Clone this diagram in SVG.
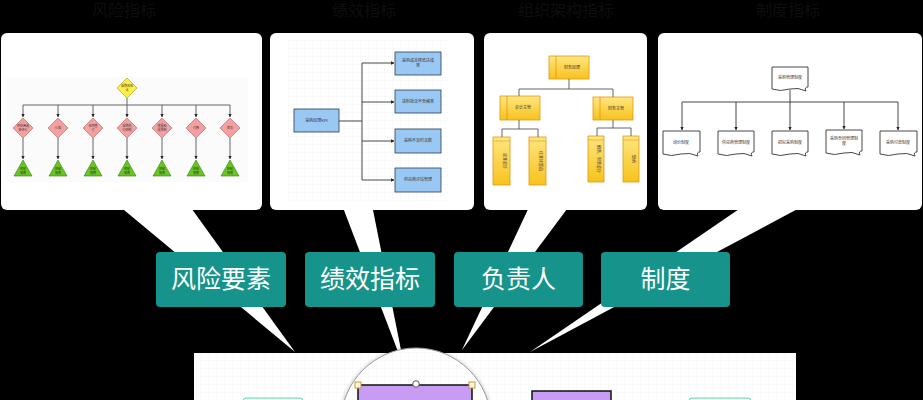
<svg xmlns="http://www.w3.org/2000/svg" width="923" height="400" viewBox="0 0 923 400">
<defs>
  <pattern id="grid" width="8" height="8" patternUnits="userSpaceOnUse">
    <path d="M8 0H0V8" fill="none" stroke="#eeeeee" stroke-width="0.6"/>
  </pattern>
  <marker id="ah" viewBox="0 0 6 6" refX="5.5" refY="3" markerWidth="4" markerHeight="4" orient="auto">
    <path d="M0 0L6 3L0 6Z" fill="#222"/>
  </marker>
  <linearGradient id="yel" x1="0" y1="0" x2="0" y2="1">
    <stop offset="0" stop-color="#ffe680"/>
    <stop offset="1" stop-color="#f7c21c"/>
  </linearGradient>
  <filter id="sh" x="-20%" y="-20%" width="140%" height="140%">
    <feDropShadow dx="0" dy="1" stdDeviation="2" flood-color="#000" flood-opacity="0.35"/>
  </filter>
</defs>
<style>
  .panel{fill:#ffffff}
  .title{font-family:"Noto Sans CJK SC",sans-serif;font-size:16px;fill:#0e0e0e}
  .btn{fill:#16938a}
  .btxt{font-family:"Noto Sans CJK SC",sans-serif;font-size:25px;fill:#ffffff;text-anchor:middle}
  .tiny{font-family:"Noto Sans CJK SC",sans-serif;font-size:4px;fill:#333;text-anchor:middle}
  .t3{font-family:"Noto Sans CJK SC",sans-serif;font-size:3px;fill:#333;text-anchor:middle}
  .ln{fill:none;stroke:#555;stroke-width:0.9}
  .lnk{fill:none;stroke:#333;stroke-width:0.9}
  .pink{fill:#f4a0a0;stroke:#b06060;stroke-width:0.6}
  .grn{fill:#66c81e;stroke:#3a7a10;stroke-width:0.6}
  .blue{fill:#9ac8f4;stroke:#2c3e50;stroke-width:0.8}
  .ybox{fill:url(#yel);stroke:#e09a10;stroke-width:0.8}
  .doc{fill:#ffffff;stroke:#333;stroke-width:0.9}
  .purple{fill:#c99cf3;stroke:#111;stroke-width:1.5}
</style>
<rect width="923" height="400" fill="#000"/>

<!-- faint titles -->
<g id="titles">
  <text class="title" x="92" y="16">风险指标</text>
  <text class="title" x="332" y="16">绩效指标</text>
  <text class="title" x="518" y="16">组织架构指标</text>
  <text class="title" x="756" y="16">制度指标</text>
</g>

<!-- panel 1: risk chart -->
<g id="panel-risk">
  <rect class="panel" x="1" y="33" width="261" height="177" rx="6"/>
  <polygon class="panel" points="118,205 189,205 295,352"/>
  <rect x="6" y="77" width="242" height="105" fill="#fbfbfb"/>
  <polygon points="127,78 137,88 127,98 117,88" fill="#ffee44" stroke="#a09020" stroke-width="0.6"/>
  <text class="t3" x="127" y="87">采购风险</text>
  <text class="t3" x="127" y="91">点</text>
  <g>
    <polygon class="pink" points="23,118 33,128 23,138 13,128"/>
    <polygon class="pink" points="58,118 68,128 58,138 48,128"/>
    <polygon class="pink" points="93,118 103,128 93,138 83,128"/>
    <polygon class="pink" points="127,118 137,128 127,138 117,128"/>
    <polygon class="pink" points="162,118 172,128 162,138 152,128"/>
    <polygon class="pink" points="196,118 206,128 196,138 186,128"/>
    <polygon class="pink" points="230,118 240,128 230,138 220,128"/>
    <text class="t3" x="23" y="127">供应商选</text><text class="t3" x="23" y="131">择评价</text>
    <text class="t3" x="58" y="129">价格</text>
    <text class="t3" x="93" y="127">合同签</text><text class="t3" x="93" y="131">订</text>
    <text class="t3" x="127" y="127">采购执</text><text class="t3" x="127" y="131">行控制</text>
    <text class="t3" x="162" y="127">质量验</text><text class="t3" x="162" y="131">收控制</text>
    <text class="t3" x="196" y="129">付款</text>
    <text class="t3" x="230" y="129">库存</text>
  </g>
  <g>
    <polygon class="grn" points="23,160 32,176 14,176"/>
    <polygon class="grn" points="58,160 67,176 49,176"/>
    <polygon class="grn" points="93,160 102,176 84,176"/>
    <polygon class="grn" points="127,160 136,176 118,176"/>
    <polygon class="grn" points="162,160 171,176 153,176"/>
    <polygon class="grn" points="196,160 205,176 187,176"/>
    <polygon class="grn" points="230,160 239,176 221,176"/>
    <text class="t3" x="23" y="170">控制</text><text class="t3" x="23" y="174">措施</text>
    <text class="t3" x="58" y="170">控制</text><text class="t3" x="58" y="174">措施</text>
    <text class="t3" x="93" y="170">控制</text><text class="t3" x="93" y="174">措施</text>
    <text class="t3" x="127" y="170">控制</text><text class="t3" x="127" y="174">措施</text>
    <text class="t3" x="162" y="170">控制</text><text class="t3" x="162" y="174">措施</text>
    <text class="t3" x="196" y="170">控制</text><text class="t3" x="196" y="174">措施</text>
    <text class="t3" x="230" y="170">控制</text><text class="t3" x="230" y="174">措施</text>
  </g>
</g>

<!-- panel 2: KPI -->
<g id="panel-kpi">
  <rect class="panel" x="270" y="33" width="204" height="177" rx="6"/>
  <polygon class="panel" points="342,205 372,205 405,370"/>
  <rect x="285" y="40" width="163" height="163" fill="url(#grid)"/>
  <rect class="blue" x="294" y="109" width="45" height="23"/>
  <text class="tiny" x="316.5" y="122">采购经理KPI</text>
  <rect class="blue" x="395" y="52" width="46" height="23"/>
  <text class="tiny" x="418" y="62">采购成本降低达成</text><text class="tiny" x="418" y="67">率</text>
  <rect class="blue" x="395" y="90" width="46" height="23"/>
  <text class="tiny" x="418" y="103">进料批次不合格率</text>
  <rect class="blue" x="395" y="129" width="46" height="24"/>
  <text class="tiny" x="418" y="142">采购不及时次数</text>
  <rect class="blue" x="395" y="168" width="46" height="24"/>
  <text class="tiny" x="418" y="181">供应商评估管理</text>
</g>

<!-- panel 3: org chart -->
<g id="panel-org">
  <rect class="panel" x="484" y="33" width="163" height="177" rx="6"/>
  <polygon class="panel" points="530,205 570,205 462,350"/>
  <rect class="ybox" x="549" y="56" width="40" height="23"/><path d="M556 56V79" stroke="#e09a10" stroke-width="0.8"/>
  <text class="tiny" x="572" y="69">财务经理</text>
  <rect class="ybox" x="500" y="96" width="40" height="24"/><path d="M507 96V120" stroke="#e09a10" stroke-width="0.8"/>
  <text class="tiny" x="523" y="109">会计主管</text>
  <rect class="ybox" x="593" y="97" width="40" height="23"/><path d="M600 97V120" stroke="#e09a10" stroke-width="0.8"/>
  <text class="tiny" x="616" y="110">财务主管</text>
  <rect class="ybox" x="493" y="137" width="17" height="48"/><path d="M493 141H510" stroke="#e09a10" stroke-width="0.6"/>
  <text class="tiny" transform="translate(503 161) rotate(90)">成本会计</text>
  <rect class="ybox" x="529" y="137" width="17" height="48"/><path d="M529 141H546" stroke="#e09a10" stroke-width="0.6"/>
  <text class="tiny" transform="translate(539 161) rotate(90)">往来核算员</text>
  <rect class="ybox" x="588" y="136" width="16" height="46"/><path d="M588 140H604" stroke="#e09a10" stroke-width="0.6"/>
  <text class="tiny" transform="translate(597 159) rotate(90)">税务、财务会计</text>
  <rect class="ybox" x="623" y="136" width="16" height="46"/><path d="M623 140H639" stroke="#e09a10" stroke-width="0.6"/>
  <text class="tiny" transform="translate(632 159) rotate(90)">出纳</text>
</g>

<!-- panel 4: rules -->
<g id="panel-rules">
  <rect class="panel" x="658" y="33" width="264" height="177" rx="6"/>
  <polygon class="panel" points="745,205 805,205 530,352"/>
  <path class="doc" d="M772 67H808V87Q804 87 806 91Q798 87 790 89Q780 92 772 89Z"/>
  <text class="tiny" x="790" y="79">采购管理制度</text>
  <path class="doc" d="M663 131H700V152Q696 152 698 156Q690 152 681 154Q671 157 663 154Z"/>
  <text class="tiny" x="681" y="144">询价制度</text>
  <path class="doc" d="M718 131H754V152Q750 152 752 156Q744 152 736 154Q726 157 718 154Z"/>
  <text class="tiny" x="736" y="144">供应商管理制度</text>
  <path class="doc" d="M772 131H808V152Q804 152 806 156Q798 152 790 154Q780 157 772 154Z"/>
  <text class="tiny" x="790" y="144">招标采购制度</text>
  <path class="doc" d="M826 130H862V151Q858 151 860 155Q852 151 844 153Q834 156 826 153Z"/>
  <text class="tiny" x="844" y="140">采购合同管理制</text><text class="tiny" x="844" y="145">度</text>
  <path class="doc" d="M880 131H917V152Q913 152 915 156Q907 152 898 154Q888 157 880 154Z"/>
  <text class="tiny" x="898" y="144">采购付款制度</text>
</g>

<!-- connectors inside the thumbnails -->
<g id="connectors">
  <g class="ln">
    <path d="M127 98V105M23 105H230"/>
    <path d="M23 105V117" marker-end="url(#ah)"/>
    <path d="M58 105V117" marker-end="url(#ah)"/>
    <path d="M93 105V117" marker-end="url(#ah)"/>
    <path d="M127 105V117" marker-end="url(#ah)"/>
    <path d="M162 105V117" marker-end="url(#ah)"/>
    <path d="M196 105V117" marker-end="url(#ah)"/>
    <path d="M230 105V117" marker-end="url(#ah)"/>
    <path d="M23 138V159" marker-end="url(#ah)"/>
    <path d="M58 138V159" marker-end="url(#ah)"/>
    <path d="M93 138V159" marker-end="url(#ah)"/>
    <path d="M127 138V159" marker-end="url(#ah)"/>
    <path d="M162 138V159" marker-end="url(#ah)"/>
    <path d="M196 138V159" marker-end="url(#ah)"/>
    <path d="M230 138V159" marker-end="url(#ah)"/>
  </g>
  <g class="lnk">
    <path d="M339 121H362M362 63V180"/>
    <path d="M362 63H394" marker-end="url(#ah)"/>
    <path d="M362 102H394" marker-end="url(#ah)"/>
    <path d="M362 141H394" marker-end="url(#ah)"/>
    <path d="M362 180H394" marker-end="url(#ah)"/>
  </g>
  <g class="ln">
    <path d="M569 79V89M519 89H613M519 89V96M613 89V97"/>
    <path d="M519 120V129M502 129H538M502 129V137M538 129V137"/>
    <path d="M613 120V128M597 128H631M597 128V136M631 128V136"/>
  </g>
  <g class="lnk">
    <path d="M790 90V102M682 102H898"/>
    <path d="M682 102V130" marker-end="url(#ah)"/>
    <path d="M736 102V130" marker-end="url(#ah)"/>
    <path d="M790 102V130" marker-end="url(#ah)"/>
    <path d="M844 102V129" marker-end="url(#ah)"/>
    <path d="M898 102V130" marker-end="url(#ah)"/>
  </g>
</g>

<!-- teal labels -->
<g id="btn-risk"><rect class="btn" x="156" y="252" width="130" height="55" rx="4"/><text class="btxt" x="221" y="288">风险要素</text></g>
<g id="btn-kpi"><rect class="btn" x="305" y="252" width="130" height="55" rx="4"/><text class="btxt" x="370" y="288">绩效指标</text></g>
<g id="btn-owner"><rect class="btn" x="454" y="252" width="129" height="55" rx="4"/><text class="btxt" x="518.5" y="288">负责人</text></g>
<g id="btn-rules"><rect class="btn" x="601" y="252" width="129" height="55" rx="4"/><text class="btxt" x="665.5" y="288">制度</text></g>

<!-- bottom canvas with magnifier -->
<g id="canvas">
  <rect x="194" y="353" width="602" height="47" fill="#fff"/>
  <rect x="194" y="353" width="602" height="47" fill="url(#grid)"/>
  <rect x="243" y="398" width="60" height="20" rx="3" fill="#e8fbf2" stroke="#6fd3a6" stroke-width="1"/>
  <rect x="689" y="398" width="62" height="20" rx="3" fill="#e8fbf2" stroke="#6fd3a6" stroke-width="1"/>
  <rect class="purple" x="532" y="391" width="79" height="20"/>
</g>
<g id="magnifier">
  <circle cx="416" cy="423" r="75" fill="#fff" stroke="#9a9a9a" stroke-width="1" filter="url(#sh)"/>
  <circle cx="416" cy="423" r="74" fill="url(#grid)"/>
  <rect class="purple" x="358" y="385" width="114" height="30"/>
  <rect x="355" y="382" width="6" height="6" fill="#fff6d8" stroke="#c49a30" stroke-width="1"/>
  <rect x="469" y="382" width="6" height="6" fill="#fff6d8" stroke="#c49a30" stroke-width="1"/>
  <circle cx="416" cy="384" r="3.3" fill="#fff" stroke="#555" stroke-width="1"/>
</g>
</svg>
